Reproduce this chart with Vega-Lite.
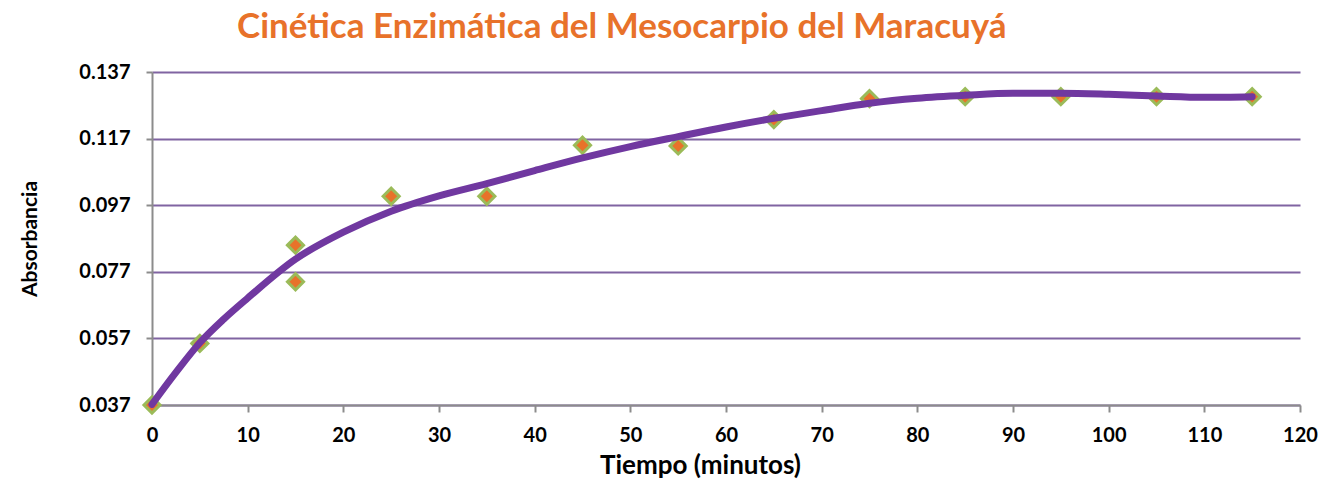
{
  "$schema": "https://vega.github.io/schema/vega-lite/v6.json",
  "width": 1148,
  "height": 333,
  "autosize": "none",
  "padding": {"left": 152, "right": 31, "top": 72, "bottom": 82},
  "background": "white",
  "title": {
    "text": "Cinética Enzimática del Mesocarpio del Maracuyá",
    "anchor": "start",
    "frame": "group",
    "dx": 85,
    "offset": 17,
    "font": "Lato",
    "fontSize": 35,
    "fontWeight": "bold",
    "color": "#E8722A"
  },
  "config": {
    "view": {"stroke": null},
    "font": "Lato"
  },
  "datasets": {
    "puntos": [
      {"tiempo": 0, "absorbancia": 0.037},
      {"tiempo": 5, "absorbancia": 0.0555},
      {"tiempo": 15, "absorbancia": 0.085},
      {"tiempo": 15, "absorbancia": 0.074},
      {"tiempo": 25, "absorbancia": 0.0997},
      {"tiempo": 35, "absorbancia": 0.0997},
      {"tiempo": 45, "absorbancia": 0.115},
      {"tiempo": 55, "absorbancia": 0.1148},
      {"tiempo": 65, "absorbancia": 0.1227},
      {"tiempo": 75, "absorbancia": 0.129},
      {"tiempo": 85, "absorbancia": 0.1296},
      {"tiempo": 95, "absorbancia": 0.1296},
      {"tiempo": 105, "absorbancia": 0.1296},
      {"tiempo": 115, "absorbancia": 0.1296}
    ],
    "tendencia": [
      {"tiempo": 0, "absorbancia": 0.0372},
      {"tiempo": 2.5, "absorbancia": 0.0468},
      {"tiempo": 5, "absorbancia": 0.0557},
      {"tiempo": 7.5, "absorbancia": 0.0628},
      {"tiempo": 10, "absorbancia": 0.0691},
      {"tiempo": 15, "absorbancia": 0.0808},
      {"tiempo": 20, "absorbancia": 0.0889},
      {"tiempo": 25, "absorbancia": 0.0952},
      {"tiempo": 30, "absorbancia": 0.0998},
      {"tiempo": 35, "absorbancia": 0.1035},
      {"tiempo": 40, "absorbancia": 0.1074},
      {"tiempo": 45, "absorbancia": 0.1112},
      {"tiempo": 50, "absorbancia": 0.1146},
      {"tiempo": 55, "absorbancia": 0.1176},
      {"tiempo": 60, "absorbancia": 0.1205},
      {"tiempo": 65, "absorbancia": 0.1231},
      {"tiempo": 70, "absorbancia": 0.1254},
      {"tiempo": 75, "absorbancia": 0.1276},
      {"tiempo": 80, "absorbancia": 0.1291},
      {"tiempo": 85, "absorbancia": 0.1300},
      {"tiempo": 90, "absorbancia": 0.1306},
      {"tiempo": 95, "absorbancia": 0.1306},
      {"tiempo": 100, "absorbancia": 0.1303},
      {"tiempo": 105, "absorbancia": 0.1298},
      {"tiempo": 110, "absorbancia": 0.1294},
      {"tiempo": 115, "absorbancia": 0.1296}
    ]
  },
  "layer": [
    {
      "data": {"name": "puntos"},
      "mark": {
        "type": "point",
        "shape": "diamond",
        "filled": true,
        "size": 260,
        "fill": "#E8722A",
        "stroke": "#9BBB59",
        "strokeWidth": 3,
        "opacity": 1
      },
      "encoding": {
        "x": {
          "field": "tiempo",
          "type": "quantitative",
          "scale": {"domain": [0, 120], "nice": false, "zero": false},
          "axis": {
            "values": [0, 10, 20, 30, 40, 50, 60, 70, 80, 90, 100, 110, 120],
            "grid": false,
            "domainColor": "#8C8C8C",
            "domainWidth": 2,
            "tickColor": "#8C8C8C",
            "tickWidth": 2,
            "tickSize": 7,
            "labelPadding": 13,
            "labelFont": "Lato",
            "labelFontSize": 20,
            "labelFontWeight": "bold",
            "labelColor": "#000000",
            "labelFlush": false,
            "title": "Tiempo (minutos)",
            "titleFont": "Lato",
            "titleFontSize": 26,
            "titleFontWeight": "bold",
            "titleColor": "#000000",
            "titlePadding": 7,
            "titleX": 548
          }
        },
        "y": {
          "field": "absorbancia",
          "type": "quantitative",
          "scale": {"domain": [0.037, 0.137], "nice": false, "zero": false},
          "axis": {
            "values": [0.037, 0.057, 0.077, 0.097, 0.117, 0.137],
            "format": ".3f",
            "grid": true,
            "gridColor": "#8064A2",
            "gridWidth": 2,
            "domainColor": "#8C8C8C",
            "domainWidth": 2,
            "tickColor": "#8C8C8C",
            "tickWidth": 2,
            "tickSize": 6,
            "labelPadding": 16,
            "labelFont": "Lato",
            "labelFontSize": 20,
            "labelFontWeight": "bold",
            "labelColor": "#000000",
            "labelFlush": false,
            "title": "Absorbancia",
            "titleFont": "Lato",
            "titleFontSize": 21,
            "titleFontWeight": "bold",
            "titleColor": "#000000",
            "titlePadding": 38
          }
        }
      }
    },
    {
      "data": {"name": "tendencia"},
      "mark": {
        "type": "line",
        "color": "#7038A0",
        "strokeWidth": 7,
        "interpolate": "monotone",
        "strokeCap": "round"
      },
      "encoding": {
        "x": {"field": "tiempo", "type": "quantitative"},
        "y": {"field": "absorbancia", "type": "quantitative"}
      }
    }
  ]
}
